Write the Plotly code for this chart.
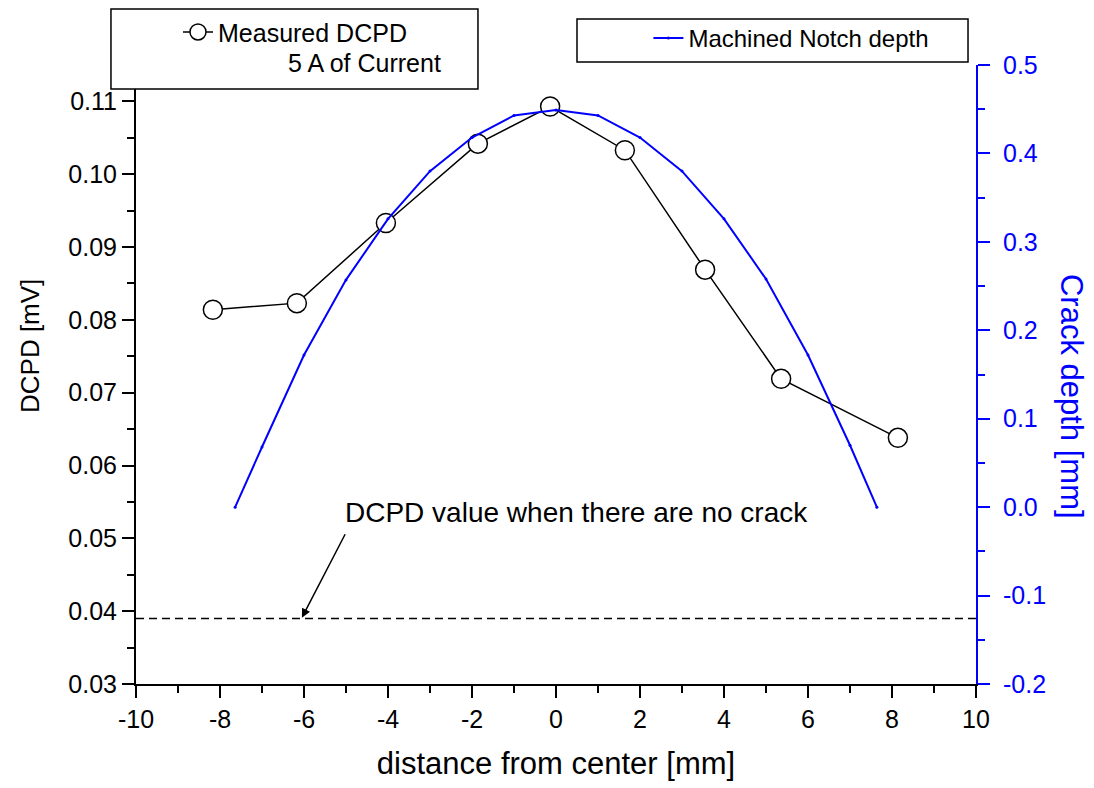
import plotly.graph_objects as go

# ---- data ----
dist_mm = [-8.17, -6.17, -4.05, -1.86, -0.14, 1.64, 3.55, 5.36, 8.14]
dcpd_mv = [0.0814, 0.0823, 0.0933, 0.1042, 0.1093, 0.1033, 0.0869, 0.0719, 0.0638]

notch_x = [-7.64, -7, -6, -5, -4, -3, -2, -1, 0, 1, 2, 3, 4, 5, 6, 7, 7.64]
notch_depth = [0.0, 0.068, 0.172, 0.257, 0.326, 0.380, 0.418, 0.443, 0.449,
               0.443, 0.418, 0.380, 0.326, 0.258, 0.172, 0.070, 0.0]

baseline_x = [-10, 10]
baseline_dcpd = [0.039, 0.039]

x_ticks = [-10, -8, -6, -4, -2, 0, 2, 4, 6, 8, 10]
x_ticktext = ["-10", "-8", "-6", "-4", "-2", "0", "2", "4", "6", "8", "10"]
y_ticks = [0.03, 0.04, 0.05, 0.06, 0.07, 0.08, 0.09, 0.10, 0.11]
y_ticktext = ["0.03", "0.04", "0.05", "0.06", "0.07", "0.08", "0.09", "0.10", "0.11"]
y2_ticks = [-0.2, -0.1, 0.0, 0.1, 0.2, 0.3, 0.4, 0.5]
y2_ticktext = ["-0.2", "-0.1", "0.0", "0.1", "0.2", "0.3", "0.4", "0.5"]

FONT = "Liberation Sans, Arial, sans-serif"
BLUE = "#0000ff"

fig = go.Figure()

fig.add_trace(go.Scatter(
    x=baseline_x, y=baseline_dcpd, mode="lines",
    line=dict(color="black", width=1.5, dash="8px,5px"),
    showlegend=False, hoverinfo="skip"))

fig.add_trace(go.Scatter(
    x=dist_mm, y=dcpd_mv, mode="lines+markers", name="Measured DCPD",
    line=dict(color="black", width=1.5),
    marker=dict(symbol="circle", size=19, color="white",
                line=dict(color="black", width=1.5)),
    legend="legend"))

fig.add_trace(go.Scatter(
    x=notch_x, y=notch_depth, mode="lines+markers", name="Machined Notch depth",
    yaxis="y2",
    line=dict(color=BLUE, width=2),
    marker=dict(symbol="circle", size=3, color=BLUE),
    legend="legend2"))

tickfont = dict(family=FONT, size=25, color="black")

fig.update_layout(
    width=1094, height=788,
    margin=dict(l=136, r=118, t=65, b=104, autoexpand=False),
    paper_bgcolor="white", plot_bgcolor="white",
    font=dict(family=FONT, size=24, color="black"),
    xaxis=dict(
        range=[-10, 10], tickvals=x_ticks, ticktext=x_ticktext,
        showgrid=False, zeroline=False,
        showline=True, linecolor="black", linewidth=2,
        ticks="outside", ticklen=12, tickwidth=2, tickcolor="black",
        minor=dict(dtick=1, tick0=-10, ticks="outside", ticklen=7, tickwidth=2, tickcolor="black", showgrid=False),
        tickfont=tickfont,
        title=dict(text="distance from center [mm]", font=dict(family=FONT, size=31), standoff=20),
    ),
    xaxis2=dict(
        range=[-10, 10], overlaying="x", side="top", anchor="y",
        tickvals=x_ticks, showticklabels=False,
        showgrid=False, zeroline=False,
        showline=True, linecolor="black", linewidth=2,
        ticks="inside", ticklen=12, tickwidth=2, tickcolor="black",
        minor=dict(dtick=1, tick0=-10, ticks="inside", ticklen=7, tickwidth=2, tickcolor="black", showgrid=False),
    ),
    yaxis=dict(
        range=[0.03, 0.115], tickvals=y_ticks, ticktext=y_ticktext,
        showgrid=False, zeroline=False,
        showline=True, linecolor="black", linewidth=2,
        ticks="outside", ticklen=12, tickwidth=2, tickcolor="black",
        minor=dict(dtick=0.005, tick0=0.03, ticks="outside", ticklen=7, tickwidth=2, tickcolor="black", showgrid=False),
        tickfont=tickfont,
    ),
    yaxis2=dict(
        range=[-0.2, 0.5], tickvals=y2_ticks, ticktext=y2_ticktext,
        overlaying="y", side="right", anchor="x",
        showgrid=False, zeroline=False,
        showline=True, linecolor=BLUE, linewidth=2,
        ticks="outside", ticklen=12, tickwidth=2, tickcolor=BLUE,
        minor=dict(dtick=0.05, tick0=-0.2, ticks="outside", ticklen=7, tickwidth=2, tickcolor=BLUE, showgrid=False),
        tickfont=dict(family=FONT, size=25, color=BLUE),
        ticklabelstandoff=8,
    ),
    legend=dict(
        x=0.05, y=1.053, xanchor="left", yanchor="middle",
        bgcolor="rgba(0,0,0,0)", borderwidth=0,
        font=dict(family=FONT, size=25, color="black"),
    ),
    legend2=dict(
        x=0.61, y=1.043, xanchor="left", yanchor="middle",
        bgcolor="rgba(0,0,0,0)", borderwidth=0,
        font=dict(family=FONT, size=24, color="black"),
    ),
    shapes=[
        dict(type="rect", xref="paper", yref="paper",
             x0=-0.0298, x1=0.4071, y0=0.9612, y1=1.0905,
             line=dict(color="black", width=1.5), fillcolor="white", layer="above"),
        dict(type="rect", xref="paper", yref="paper",
             x0=0.525, x1=0.9905, y0=1.0048, y1=1.0743,
             line=dict(color="black", width=1.5), fillcolor="white", layer="above"),
    ],
    annotations=[
        dict(text="DCPD [mV]", xref="paper", yref="paper",
             x=-0.1262, y=0.546, xanchor="center", yanchor="middle", textangle=-90,
             showarrow=False, font=dict(family=FONT, size=26, color="black")),
        dict(text="Crack depth [mm]", xref="paper", yref="paper",
             x=1.1131, y=0.4653, xanchor="center", yanchor="middle", textangle=90,
             showarrow=False, font=dict(family=FONT, size=31, color=BLUE)),
        dict(text="5 A of Current", xref="paper", yref="paper",
             x=0.1786, y=1.004, xanchor="left", yanchor="middle",
             showarrow=False, font=dict(family=FONT, size=25, color="black")),
        dict(text="DCPD value when there are no crack", xref="x", yref="y",
             x=-5.07, y=0.0535, xanchor="left", yanchor="middle",
             showarrow=False, font=dict(family=FONT, size=28, color="black")),
        dict(text="", xref="x", yref="y", x=-6.05, y=0.0391,
             showarrow=True, ax=44, ay=-85, axref="pixel", ayref="pixel",
             arrowhead=2, arrowsize=1.2, arrowwidth=1.5, arrowcolor="black"),
    ],
)

fig.write_html("out.html")
